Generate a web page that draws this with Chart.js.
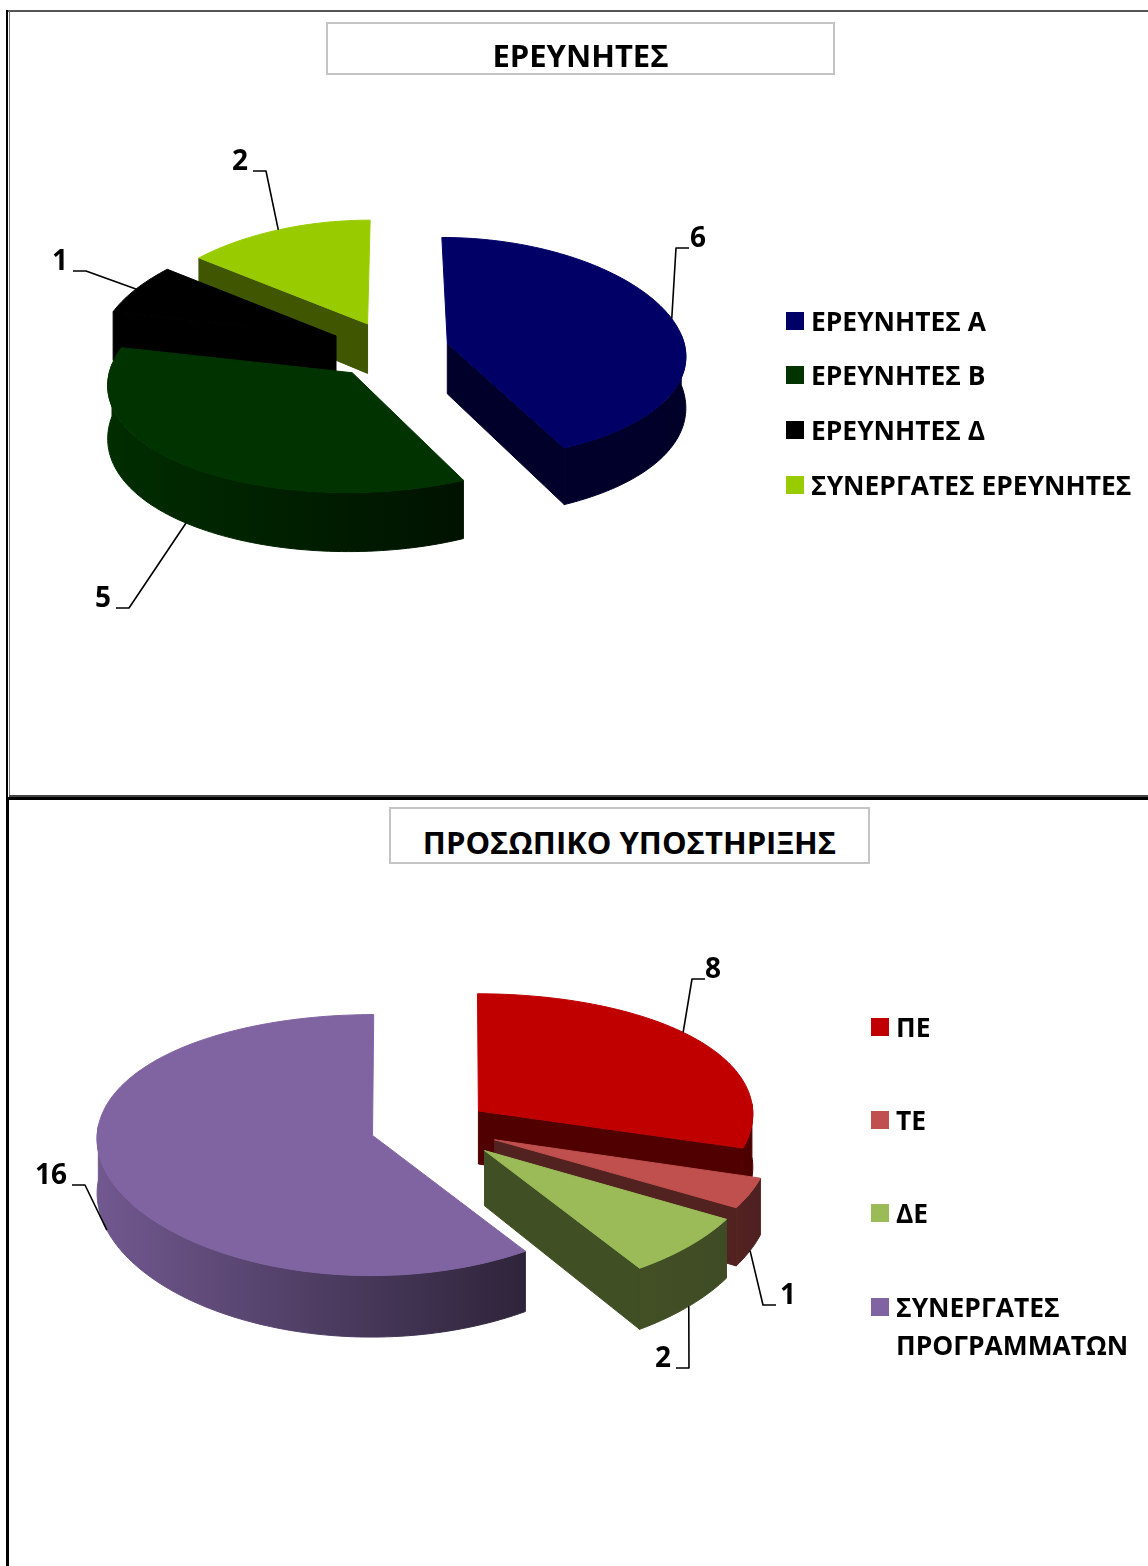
<!DOCTYPE html>
<html lang="el">
<head>
<meta charset="utf-8">
<title>ΕΡΕΥΝΗΤΕΣ / ΠΡΟΣΩΠΙΚΟ ΥΠΟΣΤΗΡΙΞΗΣ</title>
<script src="https://cdn.jsdelivr.net/npm/chart.js@4/dist/chart.umd.min.js"></script>
<style>
  html, body { margin: 0; padding: 0; background: #fff; }
  body { position: relative; width: 1148px; height: 1566px; overflow: hidden;
         font-family: "Open Sans", "Noto Sans", sans-serif; font-weight: 700; color: #000; }
  canvas { position: absolute; left: 0; }
  #c1 { top: 0; }
  #c2 { top: 800px; }
  .rule { position: absolute; }
  .title { position: absolute; box-sizing: border-box; border: 2px solid #c4c4c4; background: #fff;
           display: flex; align-items: center; justify-content: center; white-space: nowrap; padding-top: 12px; }
  .key { position: absolute; white-space: nowrap; line-height: 38px; }
  .key i { position: absolute; width: 18px; height: 18px; }
</style>
</head>
<body>
<div class="rule" style="left:7px;top:10px;width:1141px;height:2px;background:#555"></div>
<div class="rule" style="left:6px;top:10px;width:2px;height:787px;background:#000"></div>
<div class="rule" style="left:9px;top:11px;width:1px;height:785px;background:#777"></div>
<div class="rule" style="left:9px;top:795px;width:1139px;height:2px;background:#444"></div>
<div class="rule" style="left:6px;top:797px;width:1142px;height:3px;background:#000"></div>
<div class="rule" style="left:6px;top:797px;width:3px;height:769px;background:#000"></div>

<canvas id="c1"></canvas>
<canvas id="c2"></canvas>

<script>
const titleResearchers = 'ΕΡΕΥΝΗΤΕΣ';
const labelsResearchers = ['ΕΡΕΥΝΗΤΕΣ Α', 'ΕΡΕΥΝΗΤΕΣ Β', 'ΕΡΕΥΝΗΤΕΣ Δ', 'ΣΥΝΕΡΓΑΤΕΣ ΕΡΕΥΝΗΤΕΣ'];
const valuesResearchers = [6, 5, 1, 2];
const coloursResearchers = ['#000066', '#003300', '#000000', '#99cc00'];

const titleSupport = 'ΠΡΟΣΩΠΙΚΟ ΥΠΟΣΤΗΡΙΞΗΣ';
const labelsSupport = ['ΠΕ', 'ΤΕ', 'ΔΕ', ['ΣΥΝΕΡΓΑΤΕΣ', 'ΠΡΟΓΡΑΜΜΑΤΩΝ']];
const valuesSupport = [8, 1, 2, 16];
const coloursSupport = ['#c00000', '#c0504d', '#9bbb59', '#8064a2'];

const FONT = '"Open Sans", "Noto Sans", sans-serif';

function shade(hex, f) {
  const n = parseInt(hex.slice(1), 16);
  const c = [n >> 16, (n >> 8) & 255, n & 255].map(v => Math.round(v * f));
  return `rgb(${c[0]},${c[1]},${c[2]})`;
}

// draws the library's arcs as tilted slabs instead of flat slices
const pie3d = {
  id: 'pie3d',
  beforeDatasetDraw() { return false; },
  afterDatasetsDraw(chart, args, o) {
    const ctx = chart.ctx;
    const arcs = chart.getDatasetMeta(0).data;

    function project(cx, cy, X, Y, R, depth) {
      const k = 1 + o.perspective * Y / R;
      const kd = 1 + 0.13 * Y / R;
      return [cx + X * (1 + o.spread * Y / R), cy + Y * o.tilt * k + depth * kd];
    }

    const slices = arcs.map((arc, i) => {
      const p = arc.getProps(['x', 'y', 'startAngle', 'endAngle', 'outerRadius'], true);
      const mid = (p.startAngle + p.endAngle) / 2;
      const ox = Math.cos(mid) * arc.options.offset;
      const oy = Math.sin(mid) * arc.options.offset;
      return { i, p, mid, ox, oy, colour: arc.options.backgroundColor };
    });

    slices.sort((a, b) => Math.sin(a.mid) - Math.sin(b.mid));

    slices.forEach(s => {
      const { p, ox, oy, colour } = s;
      const R = p.outerRadius;
      const n = Math.max(6, Math.ceil((p.endAngle - p.startAngle) * 40));
      const angles = [];
      for (let j = 0; j <= n; j++) angles.push(p.startAngle + (p.endAngle - p.startAngle) * j / n);
      const rimAt = (a, d) => project(p.x, p.y, ox + R * Math.cos(a), oy + R * Math.sin(a), R, d);
      const apex = d => project(p.x, p.y, ox, oy, R, d);
      const fillPoly = (pts, style) => {
        ctx.beginPath();
        pts.forEach((q, j) => (j ? ctx.lineTo(q[0], q[1]) : ctx.moveTo(q[0], q[1])));
        ctx.closePath();
        ctx.fillStyle = style;
        ctx.fill();
        ctx.strokeStyle = style;
        ctx.lineWidth = 1;
        ctx.lineJoin = 'round';
        ctx.stroke();
      };

      const top = angles.map(a => rimAt(a, 0));
      const last = top.length - 1;

      // outer wall, only the part of the rim that faces the viewer
      const front = angles.filter(a => Math.sin(a) > -0.08);
      if (front.length > 1) {
        const lit = Math.cos(s.mid) < -0.1;
        const xs = top.map(q => q[0]);
        const wall = ctx.createLinearGradient(Math.min(...xs), 0, Math.max(...xs), 0);
        wall.addColorStop(0, shade(colour, lit ? 0.88 : 0.43));
        wall.addColorStop(1, shade(colour, lit ? 0.36 : 0.4));
        const upper = front.map(a => rimAt(a, 0));
        const lower = front.map(a => rimAt(a, o.depth)).reverse();
        fillPoly(upper.concat(lower), wall);
      }

      // cut faces, only the ones turned towards the viewer
      if (Math.cos(p.startAngle) < -0.01) {
        fillPoly([apex(0), top[0], rimAt(p.startAngle, o.depth), apex(o.depth)], shade(colour, 0.42));
      }
      if (Math.cos(p.endAngle) > 0.01) {
        fillPoly([apex(0), top[last], rimAt(p.endAngle, o.depth), apex(o.depth)], shade(colour, 0.42));
      }

      // top surface
      fillPoly([apex(0)].concat(top), colour);

      const a = s.mid + (o.labelAt[s.i].turn || 0) * Math.PI / 180;
      s.anchor = rimAt(a, Math.sin(s.mid) > 0 ? o.depth : 0);
    });

    // value labels with leader lines
    const values = chart.data.datasets[0].data;
    slices.forEach(s => {
      const at = o.labelAt[s.i];
      const side = at.x < s.anchor[0] ? 1 : -1;
      ctx.beginPath();
      ctx.moveTo(at.x + side * at.gap, at.y + 10);
      ctx.lineTo(at.x + side * (at.gap + 13), at.y + 10);
      ctx.lineTo(s.anchor[0], s.anchor[1]);
      ctx.strokeStyle = '#000';
      ctx.lineWidth = 1.6;
      ctx.stroke();
      ctx.fillStyle = '#000';
      ctx.font = `700 28px ${FONT}`;
      ctx.textAlign = 'center';
      ctx.textBaseline = 'middle';
      ctx.fillText(String(values[s.i]), at.x, at.y + 1.5);
    });
  }
};

function makePie(id, labels, values, colours, opts) {
  const canvas = document.getElementById(id);
  canvas.style.width = opts.width + 'px';
  canvas.style.height = opts.height + 'px';
  canvas.width = opts.width;
  canvas.height = opts.height;
  return new Chart(canvas, {
    type: 'pie',
    data: {
      labels: labels.map(l => [].concat(l).join(' ')),
      datasets: [{ data: values, backgroundColor: colours, borderWidth: 0, offset: opts.offset }]
    },
    options: {
      responsive: false,
      animation: false,
      radius: opts.radius,
      layout: { padding: opts.padding },
      plugins: {
        legend: { display: false },
        tooltip: { enabled: false },
        pie3d: opts.solid
      }
    },
    plugins: [pie3d]
  });
}

function addTitle(text, left, top, width, height, size) {
  const d = document.createElement('div');
  d.className = 'title';
  d.textContent = text;
  d.style.cssText = `left:${left}px;top:${top}px;width:${width}px;height:${height}px;font-size:${size}px`;
  document.body.appendChild(d);
}

function addLegend(labels, colours, left, tops, size) {
  labels.forEach((label, i) => {
    const d = document.createElement('div');
    d.className = 'key';
    d.style.cssText = `left:${left}px;top:${tops[i] - 19}px;padding-left:25px;font-size:${size}px`;
    d.innerHTML = `<i style="left:0;top:10px;background:${colours[i]}"></i>` + [].concat(label).join('<br>');
    document.body.appendChild(d);
  });
}

makePie('c1', labelsResearchers, valuesResearchers, coloursResearchers, {
  width: 1148, height: 800, radius: 238, offset: [56, 64, 64, 60],
  padding: { left: 0, right: 362, top: 0, bottom: 102 },
  solid: {
    tilt: 0.47, perspective: 0.05, spread: 0.1, depth: 51,
    labelAt: [{ x: 698, y: 238, gap: 9 }, { x: 103, y: 598, gap: 13 }, { x: 60, y: 261, gap: 13 }, { x: 240, y: 161, gap: 13 }]
  }
});

makePie('c2', labelsSupport, valuesSupport, coloursSupport, {
  width: 1148, height: 766, radius: 275, offset: [58, 68, 72, 62],
  padding: { left: 0, right: 284, top: 0, bottom: 112 },
  solid: {
    tilt: 0.47, perspective: 0.075, spread: 0.02, depth: 54,
    labelAt: [{ x: 713, y: 169, gap: 8, turn: -4 }, { x: 788, y: 495, gap: 12 }, { x: 663, y: 558, gap: 13 }, { x: 51, y: 375, gap: 21 }]
  }
});

addTitle(titleResearchers, 326, 22, 509, 53, 31);
addTitle(titleSupport, 389, 807, 481, 57, 31);
addLegend(labelsResearchers, coloursResearchers, 786, [321, 375, 430, 485], 26.4);
addLegend(labelsSupport, coloursSupport, 871, [1027, 1120, 1213, 1307], 26.4);
</script>
</body>
</html>
